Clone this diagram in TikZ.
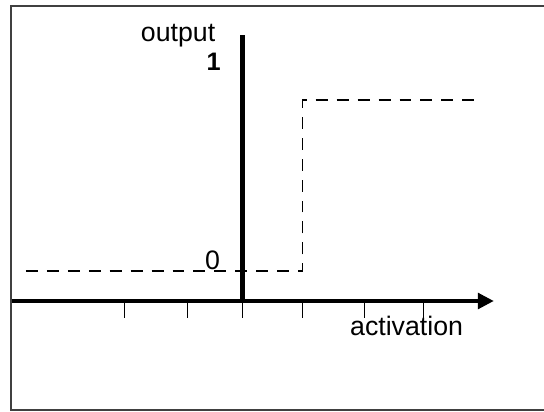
\documentclass[tikz,border=0pt]{standalone}
\usepackage{fontspec}
\setmainfont{Liberation Sans}
\usetikzlibrary{arrows.meta}
\tikzstyle{frame} = [draw=black!75, line width=1.1pt]
\tikzstyle{axis} = [line width=3.2pt]
\tikzstyle{arrow} = [-{Triangle[length=11.4pt,width=11pt]}]
\tikzstyle{tick} = [line width=0.7pt]
\tikzstyle{threshold} = [line width=1pt, dash pattern=on 8.5pt off 6.4pt]
\tikzstyle{axislabel} = [inner sep=0pt, font=\fontsize{19}{22}\selectfont]
\tikzstyle{valuelabel} = [inner sep=0pt, font=\bfseries\fontsize{18}{21}\selectfont]

\begin{document}
\begin{tikzpicture}[x=1.5cm, y=1.5cm]
				\useasboundingbox (-4.042,-1.85) rectangle (5.025,5.017);
				% Frame, open on the right
				\coordinate (framene) at (5.6,4.92);
				\coordinate (framenw) at (-3.86,4.92);
				\coordinate (framesw) at (-3.86,-1.817);
				\coordinate (framese) at (5.6,-1.817);
				\draw [frame] (framene) -- (framenw) -- (framesw) -- (framese);
				
				% Axes
				\coordinate (origin) at (0,0);
				\coordinate (xstart) at (-3.84,0);
				\coordinate (xend) at (4.19,0);
				\coordinate (ytop) at (0,4.433);
				\draw [axis] (origin) -- (ytop);
				\draw [axis, arrow] (xstart) -- (xend);
				\foreach \x in {-1.975,-0.925,0,1,2.025,3.01}
					\draw [tick] (\x,0) -- (\x,-0.29);
				
				% Step function
				\coordinate (lowstart) at (-3.61,0.5);
				\coordinate (lowend) at (1,0.5);
				\coordinate (highstart) at (1,3.35);
				\coordinate (highend) at (3.96,3.35);
				\draw [threshold] (lowstart) -- (lowend) -- (highstart) -- (highend);
				
				% Labels
				\node (output) [axislabel, anchor=base east] at (-0.45,4.32) {output};
				\node (one) [valuelabel, anchor=base east] at (-0.36,3.85) {1};
				\node (zero) [axislabel, anchor=base east] at (-0.37,0.517) {0};
				\node (activation) [axislabel, anchor=base west] at (1.79,-0.567) {activation};
				
			\end{tikzpicture}
\end{document}
